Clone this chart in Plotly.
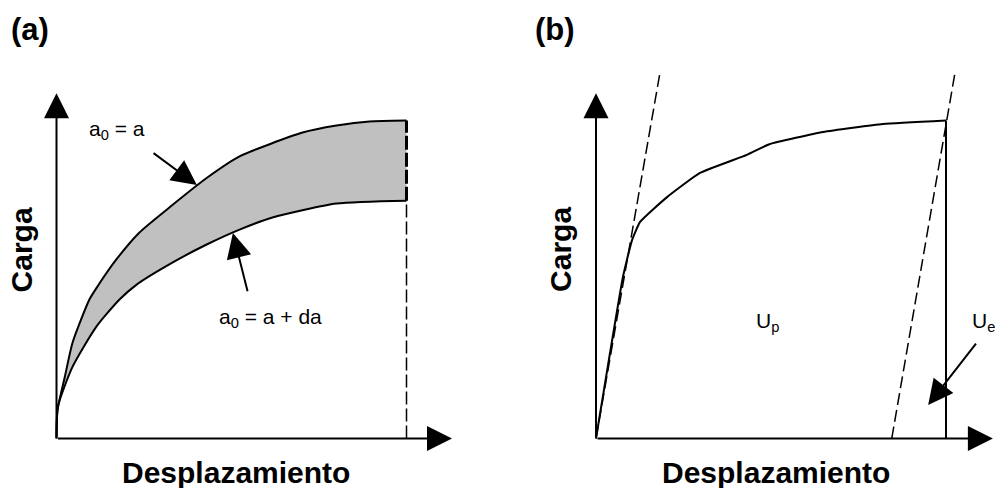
import plotly.graph_objects as go

# ---- Panel (a): load-displacement curves for crack length a and a + da ----
disp_a = [0, 0.03, 0.24, 0.46, 0.94, 1.17, 1.71, 2.37, 3.31, 4.29, 5.23, 7.03, 8.0, 8.94, 10.0]
load_a = [0, 0.9, 1.95, 3.02, 4.37, 4.78, 5.63, 6.48, 7.34, 8.19, 8.87, 9.62, 9.84, 9.97, 10.0]
disp_ada = [0, 0.04, 0.46, 1.14, 1.8, 2.29, 3.31, 4.29, 5.23, 6.17, 8.0, 10.0]
load_ada = [0, 1.0, 2.26, 3.52, 4.37, 4.84, 5.53, 6.10, 6.57, 6.95, 7.39, 7.48]

# ---- Panel (b): load-displacement curve with elastic loading/unloading lines ----
disp_b = [0, 0.77, 1.03, 1.26, 2.03, 2.97, 4.31, 4.97, 6.49, 8.2, 10.0]
load_b = [0, 5.08, 6.24, 6.81, 7.59, 8.35, 8.92, 9.26, 9.64, 9.89, 10.0]
load_line_disp = [0, 1.83]
load_line_load = [0, 11.52]
unload_line_disp = [8.45, 10.26]
unload_line_load = [0, 11.52]

# axis extents (arrow tips) in data units
X_TIP_A, X_TIP_B, Y_TIP = 11.3, 11.34, 10.86

# page geometry: data units -> pixels
W, H = 1002, 488
SX, SY = 35.0, 31.8          # px per unit
ORIG_A, ORIG_B, ORIG_Y = 56.5, 596.0, 438.5

FONT = "Liberation Sans, Arial, sans-serif"
BLACK = "#000000"

fig = go.Figure()

# shaded band between the two curves of panel (a)
fig.add_trace(go.Scatter(x=disp_ada, y=load_ada, mode="lines",
                         line=dict(color=BLACK, width=2, shape="spline", smoothing=0.6),
                         xaxis="x", yaxis="y", hoverinfo="skip"))
fig.add_trace(go.Scatter(x=disp_a, y=load_a, mode="lines", fill="tonexty",
                         fillcolor="#c0c0c0",
                         line=dict(color=BLACK, width=2, shape="spline", smoothing=0.6),
                         xaxis="x", yaxis="y", hoverinfo="skip"))
# dashed drop line at the end displacement
end_a = disp_a[-1]
fig.add_trace(go.Scatter(x=[end_a, end_a], y=[0, load_ada[-1]], mode="lines",
                         line=dict(color=BLACK, width=1.5, dash="13px,4px"),
                         xaxis="x", yaxis="y", hoverinfo="skip"))
fig.add_trace(go.Scatter(x=[end_a, end_a], y=[load_ada[-1], load_a[-1]], mode="lines",
                         line=dict(color=BLACK, width=3, dash="14px,3px"),
                         xaxis="x", yaxis="y", hoverinfo="skip"))

# panel (b)
fig.add_trace(go.Scatter(x=load_line_disp, y=load_line_load, mode="lines",
                         line=dict(color=BLACK, width=1.5, dash="12px,5px"),
                         xaxis="x2", yaxis="y2", hoverinfo="skip"))
fig.add_trace(go.Scatter(x=unload_line_disp, y=unload_line_load, mode="lines",
                         line=dict(color=BLACK, width=1.5, dash="12px,5px"),
                         xaxis="x2", yaxis="y2", hoverinfo="skip"))
fig.add_trace(go.Scatter(x=disp_b, y=load_b, mode="lines",
                         line=dict(color=BLACK, width=2, shape="spline", smoothing=0.4),
                         xaxis="x2", yaxis="y2", hoverinfo="skip"))
end_b = disp_b[-1]
fig.add_trace(go.Scatter(x=[end_b, end_b], y=[0, load_b[-1]], mode="lines",
                         line=dict(color=BLACK, width=2), xaxis="x2", yaxis="y2",
                         hoverinfo="skip"))


def arrow(xr, yr, x0, y0, x1, y1, width=2, size=2.5):
    return dict(x=x1, y=y1, ax=x0, ay=y0, xref=xr, yref=yr, axref=xr, ayref=yr,
                text="", showarrow=True, arrowhead=2, arrowsize=size,
                arrowwidth=width, arrowcolor=BLACK)


def label(xr, yr, x, y, text, size=21, bold=False, angle=0, xanchor="center"):
    return dict(x=x, y=y, xref=xr, yref=yr, text=f"<b>{text}</b>" if bold else text,
                showarrow=False, textangle=angle, xanchor=xanchor, yanchor="middle",
                font=dict(family=FONT, size=size, color=BLACK))


ann = []
for xr, yr, xtip in (("x", "y", X_TIP_A), ("x2", "y2", X_TIP_B)):
    ann.append(arrow(xr, yr, 0, 0, xtip, 0))
    ann.append(arrow(xr, yr, 0, 0, 0, Y_TIP))
    ann.append(label(xr, yr, 5.14, -1.07, "Desplazamiento", size=30, bold=True))
    ann.append(label(xr, yr, -1.0, 5.93, "Carga", size=30, bold=True, angle=-90))

ann.append(label("x", "y", -0.76, 12.85, "(a)", size=31, bold=True))
ann.append(label("x2", "y2", -1.17, 12.85, "(b)", size=31, bold=True))

ann.append(label("x", "y", 1.74, 9.70, "a<sub>0</sub> = a"))
ann.append(label("x", "y", 6.1, 3.79, "a<sub>0</sub> = a + da"))
ann.append(arrow("x", "y", 2.73, 9.01, 4.01, 7.97, width=2, size=2.5))
ann.append(arrow("x", "y", 5.47, 4.58, 5.04, 6.46, width=2, size=2.5))

ann.append(label("x2", "y2", 4.91, 3.66, "U<sub>p</sub>"))
ann.append(label("x2", "y2", 10.69, 3.66, "U<sub>e</sub>", xanchor="left"))
ann.append(arrow("x2", "y2", 10.89, 3.03, 9.49, 1.05, width=2, size=2.5))

hidden = dict(showgrid=False, zeroline=False, showline=False, showticklabels=False,
              ticks="", fixedrange=True)
fig.update_layout(
    width=W, height=H, margin=dict(l=0, r=0, t=0, b=0),
    paper_bgcolor="white", plot_bgcolor="white", showlegend=False,
    xaxis=dict(domain=[0, 0.5], range=[-ORIG_A / SX, (W / 2 - ORIG_A) / SX], **hidden),
    xaxis2=dict(domain=[0.5, 1], range=[(W / 2 - ORIG_B) / SX, (W - ORIG_B) / SX],
                **hidden),
    yaxis=dict(domain=[0, 1], range=[-(H - ORIG_Y) / SY, ORIG_Y / SY], **hidden),
    yaxis2=dict(domain=[0, 1], range=[-(H - ORIG_Y) / SY, ORIG_Y / SY], anchor="x2",
                **hidden),
    annotations=ann,
)

fig.write_html("out.html")
